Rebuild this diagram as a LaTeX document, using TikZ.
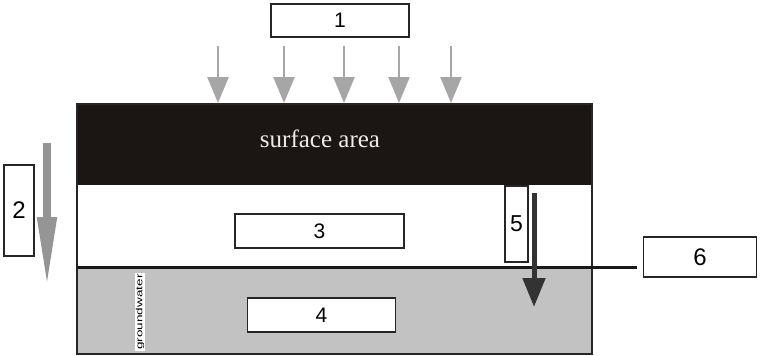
\documentclass[tikz,border=0pt]{standalone}
\usepackage{fontspec}
\setmainfont{Liberation Serif}
\setsansfont{Liberation Sans}
\usetikzlibrary{arrows.meta}
\definecolor{surf}{HTML}{1B1514}
\definecolor{gw}{HTML}{C2C2C2}
\definecolor{arrlight}{HTML}{A6A6A6}
\definecolor{arrmid}{HTML}{959595}
\definecolor{arrdark}{HTML}{333333}
\begin{document}
\begin{tikzpicture}[x=1pt,y=-1pt,
  numbox/.style={draw=black!85,line width=1.4pt,fill=white,inner sep=0pt,
    font=\sffamily\fontsize{21}{23}\selectfont},
  rainarrow/.style={draw=arrlight,line width=2.4pt,
    -{Triangle[width=21pt,length=26pt,fill=arrlight]}},
]
\useasboundingbox (0,0) rectangle (763,356);
% layers
\fill[surf] (77,104) rectangle (592,185);
\fill[white] (77,185) rectangle (592,267);
\fill[gw] (77,267) rectangle (592,354);
\draw[black!85,line width=1.4pt] (77,104) rectangle (592,354);
\node[font=\fontsize{25}{28}\selectfont,text=white!92!black] (surface) at (320,139) {surface area};
% groundwater line
\coordinate (gwL) at (77,267);
\coordinate (gwR) at (637,267);
\draw[black!90,line width=3pt] (gwL) -- (gwR);
% boxes
\node[numbox,minimum width=138pt,minimum height=33pt] (b1) at (340,20.5) {1};
\node[numbox,minimum width=30pt,minimum height=91pt,font=\sffamily\fontsize{24}{26}\selectfont] (b2) at (19,210.5) {2};
\node[numbox,minimum width=169pt,minimum height=34pt] (b3) at (319.5,231) {3};
\node[numbox,minimum width=148pt,minimum height=34pt] (b4) at (321.5,315) {4};
\node[numbox,minimum width=23pt,minimum height=76pt,font=\sffamily\fontsize{23}{25}\selectfont] (b5) at (516.5,224) {5};
\node[numbox,minimum width=113pt,minimum height=40pt,font=\sffamily\fontsize{24}{26}\selectfont] (b6) at (700,257) {6};
\node[draw=none,fill=white,inner sep=1pt,rotate=90,
  font=\sffamily\fontsize{9}{10}\selectfont] (gwlabel) at (140,312) {\scalebox{1.5}[1]{groundwater}};
% rain arrows
\foreach \x [count=\i] in {218,284,344,399,451}{
  \coordinate (r\i s) at (\x,46);
  \coordinate (r\i e) at (\x,103);
  \draw[rainarrow] (r\i s) -- (r\i e);
}
% arrow 2
\coordinate (a2s) at (47,143);
\coordinate (a2e) at (47,288);
\draw[arrmid,line width=8pt,-{Triangle[width=18pt,length=71pt,fill=arrmid]}] (a2s) -- (a2e);
% arrow 5
\coordinate (a5s) at (534,193);
\coordinate (a5e) at (534,307);
\draw[arrdark,line width=5pt,-{Triangle[width=22pt,length=29pt,fill=arrdark]}] (a5s) -- (a5e);
\end{tikzpicture}
\end{document}
